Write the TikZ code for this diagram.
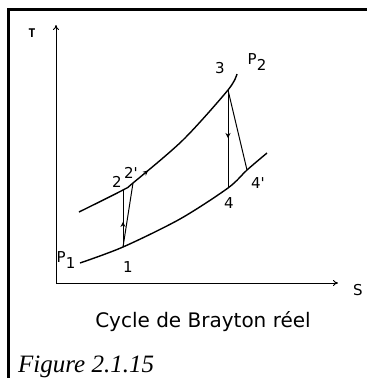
\documentclass[tikz,border=0pt]{standalone}
\usepackage{fontspec}
\setmainfont{Liberation Serif}
\newfontfamily\diagfont{DejaVu Sans}
\newfontfamily\slabfont{DejaVu Sans Mono}
\usetikzlibrary{arrows.meta, decorations.markings}
\tikzset{
  frame/.style={line width=2.5pt, line cap=rect},
  axis/.style={-{To[length=5pt, width=6pt]}, line width=1pt},
  curve/.style={line width=1.4pt},
  leg/.style={line width=1pt},
  lbl/.style={font=\diagfont\fontsize{15}{15}\selectfont, inner sep=0pt},
  midarrow/.style={postaction={decorate}, decoration={markings,
                   mark=at position #1 with {\arrow{Stealth[length=5pt, width=5pt]}}}},
}
\begin{document}
\begin{tikzpicture}[x=1pt, y=-1pt]
  \useasboundingbox (0,0) rectangle (367,378);
  % frame
  \draw[frame] (8.5,378) -- (8.5,9.5) -- (367,9.5);
  % axes
  \coordinate (o) at (56,283);
  \draw[axis] (o) -- (56,25) coordinate (ytip);
  \draw[axis] (o) -- (338,283) coordinate (xtip);
  \node[lbl, font=\slabfont\bfseries\fontsize{12}{12}\selectfont] (tlab) at (32,33) {T};
  \node[lbl] (slab) at (358,290) {S};
  % state points
  \coordinate (p1) at (123,247);
  \coordinate (p2) at (123,190);
  \coordinate (p2p) at (133,183);
  \coordinate (p3) at (228,90);
  \coordinate (p4) at (228,188);
  \coordinate (p4p) at (247,170);
  % isobars
  \draw[curve] plot[smooth] coordinates {(80,263) (p1) (180,219) (p4) (p4p) (267,153)};
  \draw[curve, midarrow=0.38] plot[smooth] coordinates {(79,212) (p2) (p2p) (183,140) (p3) (237,74)};
  % compression and expansion
  \draw[leg, midarrow=0.44] (p1) -- (p2);
  \draw[leg] (p1) -- (p2p);
  \draw[leg, midarrow=0.49] (p3) -- (p4);
  \draw[leg] (p3) -- (p4p);
  % labels
  \node[lbl] (l1) at (128,267) {1};
  \node[lbl] (l2) at (117,182) {2};
  \node[lbl] (l2p) at (131,173) {2'};
  \node[lbl] (l3) at (220,68) {3};
  \node[lbl] (l4) at (229,203) {4};
  \node[lbl] (l4p) at (258,183) {4'};
  \node[lbl] (lp1) at (66,260) {P\raisebox{-6pt}{1}};
  \node[lbl] (lp2) at (257,62) {P\raisebox{-6pt}{2}};
  % captions
  \node[lbl, font=\diagfont\fontsize{20}{20}\selectfont] (cap) at (203,322) {Cycle de Brayton réel};
  \node[anchor=base west, inner sep=0pt, font=\itshape\fontsize{25}{25}\selectfont] (fig) at (18,372) {Figure 2.1.15};
\end{tikzpicture}
\end{document}
